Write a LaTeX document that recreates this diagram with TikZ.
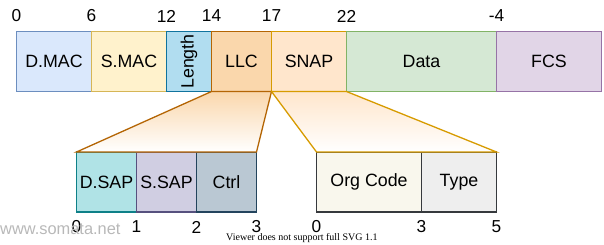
\documentclass[tikz,border=0pt]{standalone}
\usepackage{fontspec}
\setmainfont{Liberation Sans}
\newfontfamily\noteserif{Liberation Serif}
\usepackage{xcolor}
\usepackage{tikz}

\definecolor{dmacfill}{HTML}{DAE8FC}  \definecolor{dmacline}{HTML}{6C8EBF}
\definecolor{smacfill}{HTML}{FFF2CC}  \definecolor{smacline}{HTML}{D6B656}
\definecolor{lenfill}{HTML}{B1DDF0}   \definecolor{lenline}{HTML}{10739E}
\definecolor{llcfill}{HTML}{FAD7AC}   \definecolor{llcline}{HTML}{B46504}
\definecolor{snapfill}{HTML}{FFE6CC}  \definecolor{snapline}{HTML}{D79B00}
\definecolor{datafill}{HTML}{D5E8D4}  \definecolor{dataline}{HTML}{82B366}
\definecolor{fcsfill}{HTML}{E1D5E7}   \definecolor{fcsline}{HTML}{9673A6}
\definecolor{dsapfill}{HTML}{B0E3E6}  \definecolor{dsapline}{HTML}{0E8088}
\definecolor{ssapfill}{HTML}{D0CEE2}  \definecolor{ssapline}{HTML}{56517E}
\definecolor{ctrlfill}{HTML}{BAC8D3}  \definecolor{ctrlline}{HTML}{23445D}
\definecolor{orgfill}{HTML}{F9F7ED}   \definecolor{orgline}{HTML}{36393D}
\definecolor{typefill}{HTML}{EEEEEE}

\tikzset{
  field/.style={draw, line width=1.3pt, minimum height=60pt, inner sep=0pt,
    outer sep=0pt, font=\fontsize{17.8}{20}\selectfont},
  offset/.style={inner sep=0pt, font=\fontsize{17.3}{20}\selectfont},
  zoomout/.style={line width=1.3pt, line join=miter}
}

\begin{document}
\begin{tikzpicture}[x=1pt,y=-1pt]
\useasboundingbox (0,0) rectangle (604,244);

% frame fields
\node[field, fill=dmacfill, draw=dmacline, minimum width=75pt] (dmac) at (54,61.5) {D.MAC};
\node[field, fill=smacfill, draw=smacline, minimum width=75pt] (smac) at (129,61.5) {S.MAC};
\node[field, fill=lenfill, draw=lenline, minimum width=45pt] (len) at (189,61.5) {\rotatebox{90}{Length}};
\node[field, fill=llcfill, draw=llcline, minimum width=60pt] (llc) at (241.5,61.5) {LLC};
\node[field, fill=snapfill, draw=snapline, minimum width=75pt] (snap) at (309,61.5) {SNAP};
\node[field, fill=datafill, draw=dataline, minimum width=150pt] (data) at (421.5,61.5) {Data};
\node[field, fill=fcsfill, draw=fcsline, minimum width=105pt] (fcs) at (549,61.5) {FCS};

% LLC and SNAP sub-fields
\node[field, fill=dsapfill, draw=dsapline, minimum width=60pt] (dsap) at (106.5,182) {D.SAP};
\node[field, fill=ssapfill, draw=ssapline, minimum width=60pt] (ssap) at (166.5,182) {S.SAP};
\node[field, fill=ctrlfill, draw=ctrlline, minimum width=60pt] (ctrl) at (226.5,182) {Ctrl};
\node[field, fill=orgfill, draw=orgline, minimum width=105pt] (org) at (369,182) {Org Code};
\node[field, fill=typefill, draw=orgline, minimum width=75pt] (type) at (459,182) {Type};

% byte offsets
\node[offset] (o0) at (16.5,16) {0};
\node[offset] (o6) at (91.5,16) {6};
\node[offset] (o12) at (166.5,16) {12};
\node[offset] (o14) at (211.5,16) {14};
\node[offset] (o17) at (271.5,16) {17};
\node[offset] (o22) at (346.5,16) {22};
\node[offset] (o4) at (496.5,16) {-4};

\node[offset] (l0) at (76.5,227) {0};
\node[offset] (l1) at (136.5,227) {1};
\node[offset] (l2) at (196.5,227) {2};
\node[offset] (l3) at (256.5,227) {3};
\node[offset] (s0) at (316.5,227) {0};
\node[offset] (s3) at (421.5,227) {3};
\node[offset] (s5) at (496.5,227) {5};

% expansion wedges
\draw[zoomout, draw=llcline, top color=llcfill, bottom color=white]
  (llc.south west) -- (llc.south east) -- (ctrl.north east) -- (dsap.north west) -- cycle;
\draw[zoomout, draw=snapline, top color=snapfill, bottom color=white]
  (snap.south west) -- (snap.south east) -- (type.north east) -- (org.north west) -- cycle;

\node[anchor=west, inner sep=0pt, text=black!28, font=\fontsize{16.4}{18}\selectfont] (mark) at (0,229) {www.somata.net};
\node[anchor=west, inner sep=0pt, font=\noteserif\fontsize{10}{11}\selectfont] (note) at (226,238) {Viewer does not support full SVG 1.1};
\end{tikzpicture}
\end{document}
